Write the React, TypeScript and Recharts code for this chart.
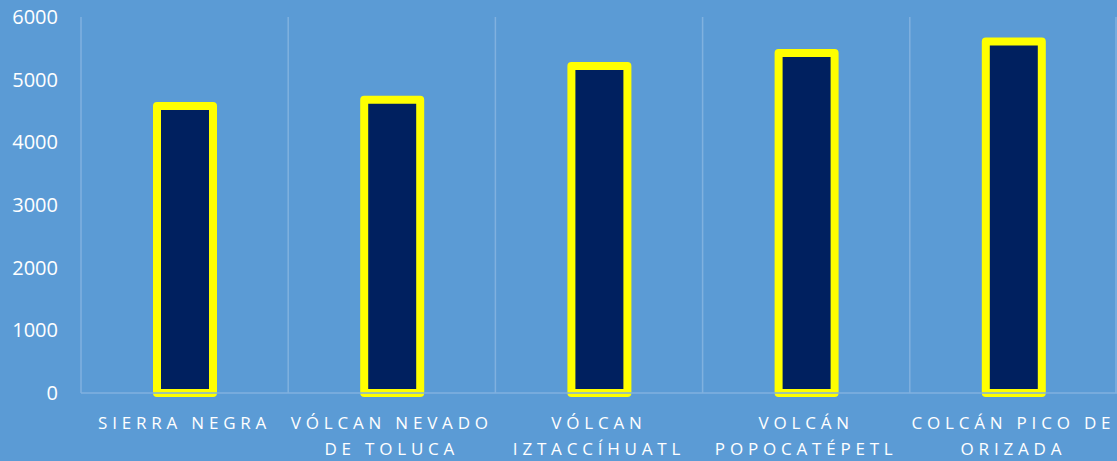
import { BarChart, Bar, XAxis, YAxis, CartesianGrid } from "recharts";

const CATEGORIES = [
  "SIERRA NEGRA",
  "VÓLCAN NEVADO\nDE TOLUCA",
  "VÓLCAN\nIZTACCÍHUATL",
  "VOLCÁN\nPOPOCATÉPETL",
  "COLCÁN PICO DE\nORIZADA",
];
const ALTITUDES = [4580, 4680, 5220, 5426, 5610];
const Y_TICKS = [0, 1000, 2000, 3000, 4000, 5000, 6000];

const data = CATEGORIES.map((name, i) => ({ name, altitud: ALTITUDES[i] }));

const FONT = "'Open Sans', 'Liberation Sans', sans-serif";
const LETTER_SPACING = 4.8;

function CategoryTick(props: any) {
  const { x, y, payload } = props;
  const lines = String(payload.value).split("\n");
  return (
    <g transform={`translate(${x},${y})`}>
      {lines.map((line, i) => (
        <text
          key={i}
          x={0}
          y={28 + i * 26}
          textAnchor="middle"
          fill="#ffffff"
          fontFamily={FONT}
          fontSize={17}
          letterSpacing={LETTER_SPACING}
        >
          {line}
        </text>
      ))}
    </g>
  );
}

export default function App() {
  return (
    <div style={{ position: "fixed", top: 0, left: 0, width: 1117, height: 461, background: "#5b9bd5" }}>
      <BarChart
        width={1117}
        height={461}
        data={data}
        margin={{ top: 17, right: 0, bottom: 0, left: 0 }}
        barSize={56}
      >
        <CartesianGrid
          horizontal={false}
          stroke="#80b1df"
          strokeWidth={1.5}
          verticalCoordinatesGenerator={({ offset }: any) =>
            CATEGORIES.map((_, i) => offset.left + (i * offset.width) / CATEGORIES.length).concat(
              offset.left + offset.width - 1
            )
          }
        />
        <XAxis
          dataKey="name"
          height={68}
          interval={0}
          axisLine={{ stroke: "#80b1df", strokeWidth: 1.5 }}
          tickLine={false}
          tick={<CategoryTick />}
        />
        <YAxis
          width={81}
          domain={[0, 6000]}
          ticks={Y_TICKS}
          axisLine={false}
          tickLine={false}
          tickSize={0}
          tickMargin={23}
          tick={{ fill: "#ffffff", fontSize: 20, fontFamily: FONT }}
        />
        <Bar
          dataKey="altitud"
          fill="#00205f"
          stroke="#ffff00"
          strokeWidth={8}
          strokeLinejoin="round"
          isAnimationActive={false}
        />
      </BarChart>
    </div>
  );
}
